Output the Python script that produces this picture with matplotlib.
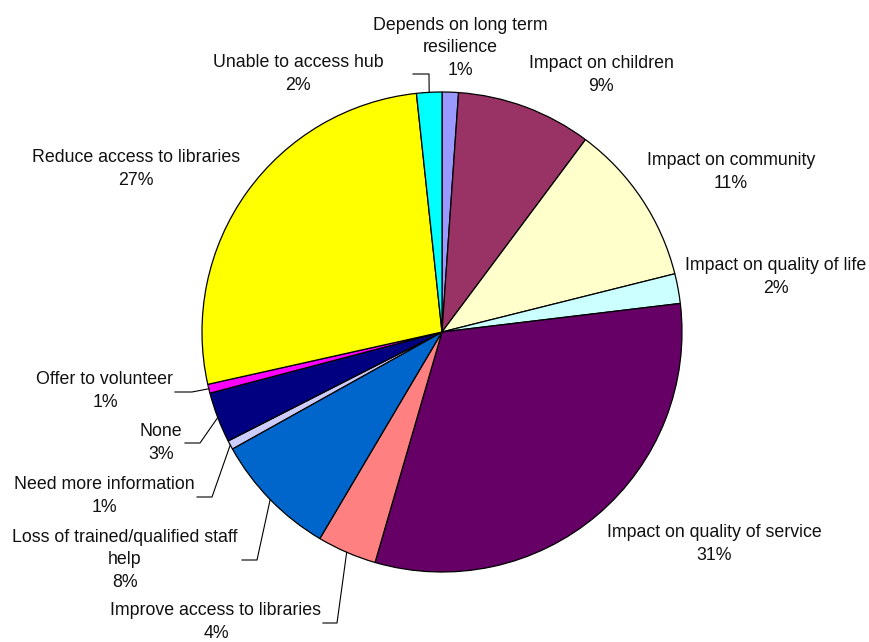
import matplotlib.pyplot as plt
import numpy as np

plt.rcParams["font.family"] = ["Liberation Sans", "DejaVu Sans"]

categories = [
    "Depends on long term\nresilience",
    "Impact on children",
    "Impact on community",
    "Impact on quality of life",
    "Impact on quality of service",
    "Improve access to libraries",
    "Loss of trained/qualified staff\nhelp",
    "Need more information",
    "None",
    "Offer to volunteer",
    "Reduce access to libraries",
    "Unable to access hub",
]
values = [1.1, 9.1, 10.9, 2.0, 31.4, 4.0, 8.4, 0.6, 3.4, 0.6, 26.8, 1.7]
colors = [
    "#9999FF", "#993366", "#FFFFCC", "#CCFFFF", "#660066", "#FF8080",
    "#0066CC", "#CCCCFF", "#000080", "#FF00FF", "#FFFF00", "#00FFFF",
]

W, H = 870, 642
cx, cy, r = 442, 332, 240

fig = plt.figure(figsize=(W / 100, H / 100), dpi=100)
ax = fig.add_axes([0, 0, 1, 1])

wedges, _ = ax.pie(
    values,
    colors=colors,
    startangle=90,
    counterclock=False,
    center=(cx, H - cy),
    radius=r,
    wedgeprops=dict(edgecolor="black", linewidth=0.9),
)
ax.set_xlim(0, W)
ax.set_ylim(0, H)
ax.set_aspect("auto")
ax.axis("off")

# label centres (pixel coords, y down)
label_pos = [
    (460, 48), (601, 75), (731, 172), (776, 277), (714, 544), (216, 622),
    (125, 560), (104, 496), (161, 443), (105, 391), (136, 169), (298, 74),
]
# leader lines: elbow point and end point (pixel coords)
leaders = {
    11: ((429, 74), (413, 74)),
    9: ((192, 392), (175, 392)),
    8: ((200, 443), (185, 443)),
    7: ((212, 497), (197, 497)),
    6: ((257, 560), (242, 560)),
    5: ((337, 623), (323, 623)),
}

for i, (name, v) in enumerate(zip(categories, values)):
    px, py = label_pos[i]
    ax.text(px, H - py, f"{name}\n{round(v)}%", ha="center", va="center",
            fontsize=12.8, color="#111111", linespacing=1.4)
    if i in leaders:
        w = wedges[i]
        mid = np.deg2rad((w.theta1 + w.theta2) / 2)
        sx = cx + r * np.cos(mid)
        sy = (H - cy) + r * np.sin(mid)
        (ex, ey), (tx, ty) = leaders[i]
        ax.plot([sx, ex, tx], [sy, H - ey, H - ty], color="black", lw=0.8)

plt.savefig("out.png", dpi=100)
